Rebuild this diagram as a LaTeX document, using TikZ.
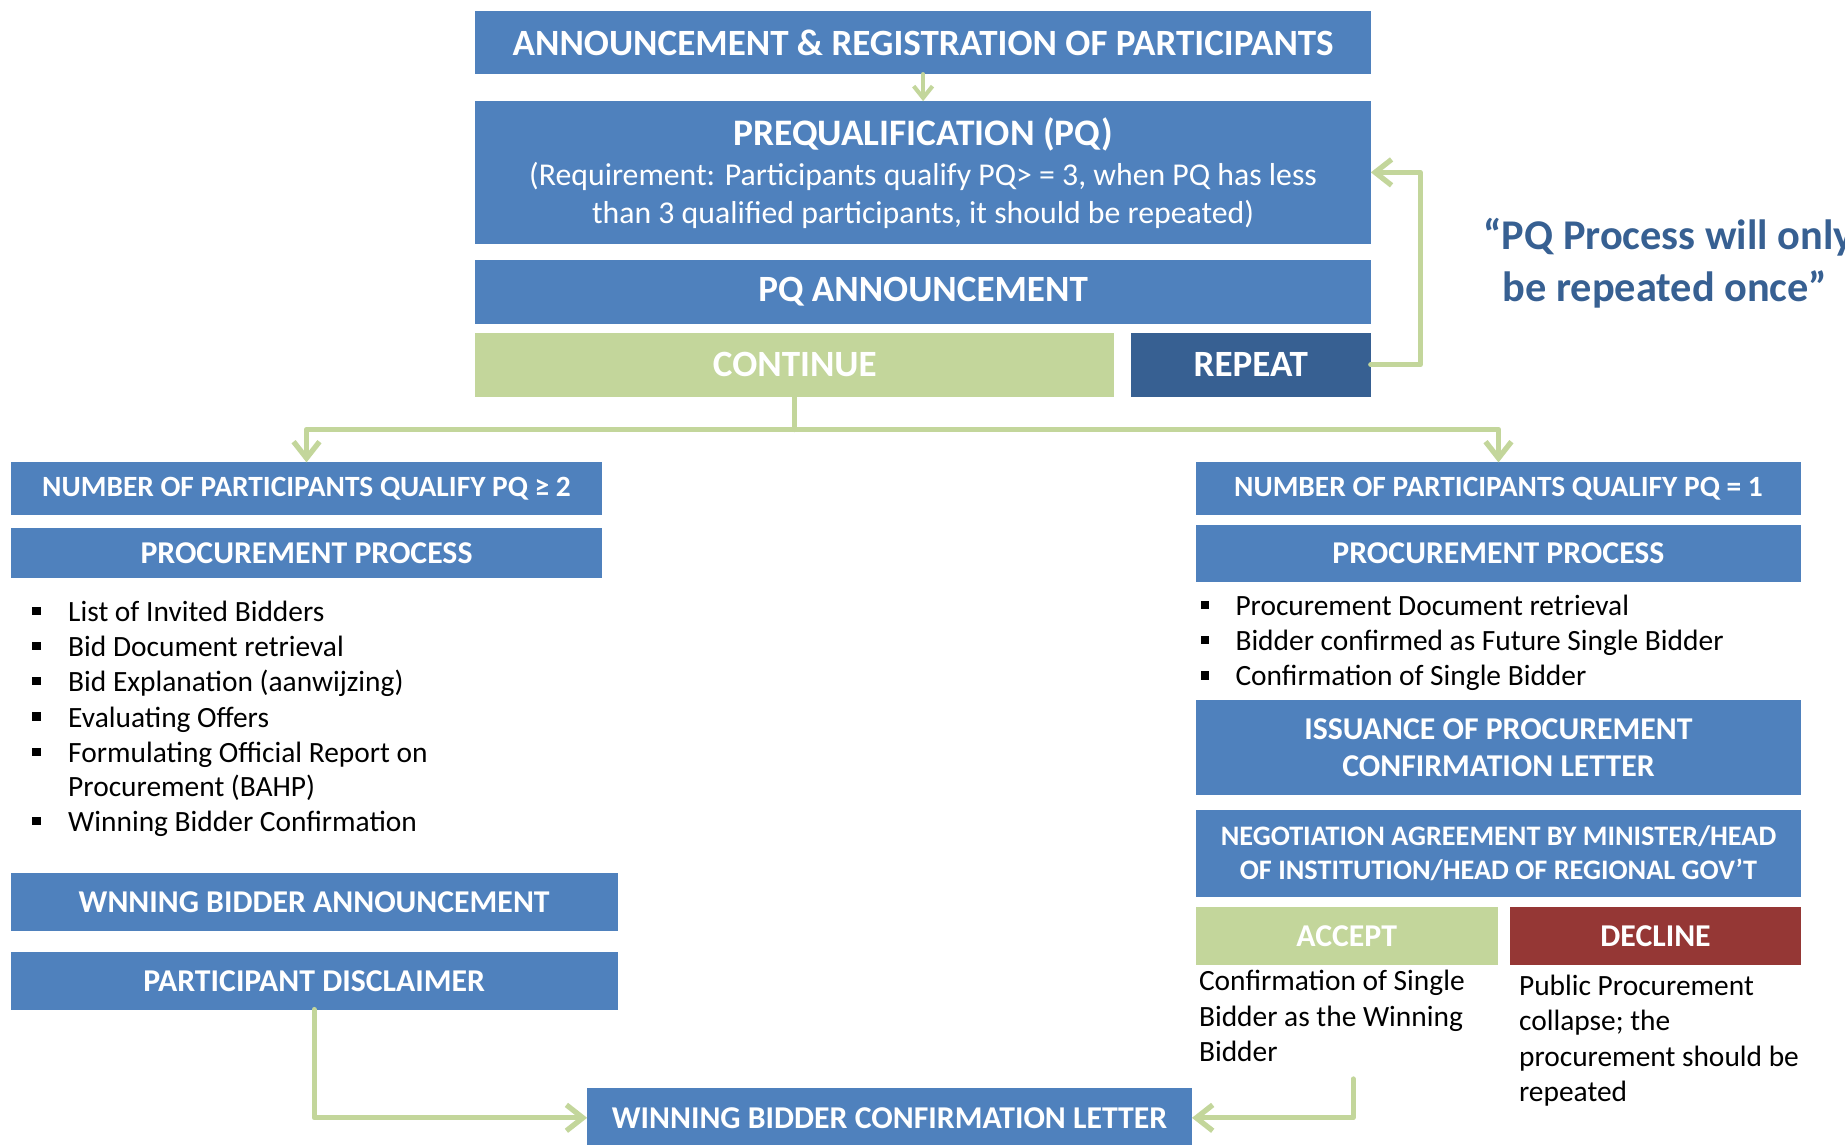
\documentclass[tikz,border=0pt]{standalone}
\usepackage{fontspec}
\setmainfont{Carlito}
\usetikzlibrary{arrows.meta}
\definecolor{bx}{HTML}{4F81BD}
\definecolor{dk}{HTML}{376092}
\definecolor{gr}{HTML}{C3D69B}
\definecolor{rd}{HTML}{953735}
\tikzset{
  box/.style={fill=bx, inner sep=0pt, outer sep=0pt, anchor=north west, text=white, align=center,
    font=\bfseries\fontsize{27}{32}\selectfont},
  bigbox/.style={box, font=\bfseries\fontsize{31.5}{36}\selectfont},
  smallbox/.style={box, font=\bfseries\fontsize{25}{29}\selectfont},
  negbox/.style={box, font=\bfseries\fontsize{24}{29}\selectfont},
  conn/.style={draw=gr, line width=4.5pt, line cap=round, line join=round},
  arr/.style={conn, -{Straight Barb[length=14pt, width=22pt]}},
  arrsmall/.style={draw=gr, line width=3.5pt, line cap=round, -{Straight Barb[length=10pt, width=16pt]}},
  bodytxt/.style={anchor=base west, inner sep=0pt, outer sep=0pt, text=black, font=\fontsize{25}{30}\selectfont},
  bul/.style={fill=black, inner sep=0pt, minimum size=7pt},
  quote/.style={text=dk, align=center, inner sep=0pt, font=\bfseries\fontsize{36}{44}\selectfont}
}
\begin{document}
\begin{tikzpicture}[x=1pt,y=-1pt]
\useasboundingbox (0,0) rectangle (1568,973);
% top column
\node[bigbox, minimum width=761pt, minimum height=54pt] (ann) at (404,9) {ANNOUNCEMENT \& REGISTRATION OF PARTICIPANTS};
\node[box, minimum width=761pt, minimum height=121pt] (pq) at (404,86) {};
\node[text=white, inner sep=0pt, font=\bfseries\fontsize{31.8}{36}\selectfont] (pqtitle) at (784.5,114) {PREQUALIFICATION (PQ)};
\node[text=white, inner sep=0pt, align=center, font=\fontsize{27}{32}\selectfont] (pqreq) at (784.5,166) {(Requirement: Participants qualify PQ> = 3, when PQ has less\\than 3 qualified participants, it should be repeated)};
\node[bigbox, minimum width=761pt, minimum height=54pt] (pqa) at (404,221) {PQ ANNOUNCEMENT};
\node[bigbox, fill=gr, minimum width=543pt, minimum height=54pt] (cont) at (404,283) {CONTINUE};
\node[bigbox, fill=dk, minimum width=204pt, minimum height=54pt] (rep) at (961,283) {REPEAT};
\node[quote] (q1) at (1418,202) {“PQ Process will only};
\node[quote] (q2) at (1415,246) {be repeated once”};
% left column
\node[smallbox, minimum width=503pt, minimum height=45pt] (n1) at (9,393) {NUMBER OF PARTICIPANTS QUALIFY PQ ≥ 2};
\node[box, minimum width=503pt, minimum height=42pt] (pp1) at (9,449) {PROCUREMENT PROCESS};
\node[bul] (lb1) at (31,519) {};
\node[bul] (lb2) at (31,549) {};
\node[bul] (lb3) at (31,579) {};
\node[bul] (lb4) at (31,609) {};
\node[bul] (lb5) at (31,639) {};
\node[bul] (lb6) at (31,698) {};
\node[bodytxt] (lt1) at (58,528) {List of Invited Bidders};
\node[bodytxt] (lt2) at (58,558) {Bid Document retrieval};
\node[bodytxt] (lt3) at (58,588) {Bid Explanation (aanwijzing)};
\node[bodytxt] (lt4) at (58,618) {Evaluating Offers};
\node[bodytxt] (lt5) at (58,648) {Formulating Official Report on};
\node[bodytxt] (lt5b) at (58,677) {Procurement (BAHP)};
\node[bodytxt] (lt6) at (58,707) {Winning Bidder Confirmation};
\node[box, minimum width=516pt, minimum height=49pt] (wba) at (9,742) {WNNING BIDDER ANNOUNCEMENT};
\node[box, minimum width=516pt, minimum height=49pt] (disc) at (9,809) {PARTICIPANT DISCLAIMER};
% bottom
\node[box, minimum width=514pt, minimum height=50pt] (conf) at (499,925) {WINNING BIDDER CONFIRMATION LETTER};
% right column
\node[smallbox, minimum width=515pt, minimum height=45pt] (n2) at (1016,393) {NUMBER OF PARTICIPANTS QUALIFY PQ = 1};
\node[box, minimum width=515pt, minimum height=49pt] (pp2) at (1016,446) {PROCUREMENT PROCESS};
\node[bul] (rb1) at (1024,514) {};
\node[bul] (rb2) at (1024,544) {};
\node[bul] (rb3) at (1024,574) {};
\node[bodytxt] (rt1) at (1050,523) {Procurement Document retrieval};
\node[bodytxt] (rt2) at (1050,553) {Bidder confirmed as Future Single Bidder};
\node[bodytxt] (rt3) at (1050,583) {Confirmation of Single Bidder};
\node[box, minimum width=515pt, minimum height=81pt] (iss) at (1016,595) {ISSUANCE OF PROCUREMENT\\CONFIRMATION LETTER};
\node[negbox, minimum width=515pt, minimum height=74pt] (neg) at (1016,688) {NEGOTIATION AGREEMENT BY MINISTER/HEAD\\OF INSTITUTION/HEAD OF REGIONAL GOV’T};
\node[box, fill=gr, minimum width=257pt, minimum height=49pt] (acc) at (1016,771) {ACCEPT};
\node[box, fill=rd, minimum width=248pt, minimum height=49pt] (dec) at (1283,771) {DECLINE};
\node[bodytxt] (at1) at (1019,842) {Confirmation of Single};
\node[bodytxt] (at2) at (1019,872) {Bidder as the Winning};
\node[bodytxt] (at3) at (1019,902) {Bidder};
\node[bodytxt] (dt1) at (1291,846) {Public Procurement};
\node[bodytxt] (dt2) at (1291,876) {collapse; the};
\node[bodytxt] (dt3) at (1291,906) {procurement should be};
\node[bodytxt] (dt4) at (1291,936) {repeated};
% connectors
\draw[arrsmall] (ann.south) -- (pq.north);
\draw[arr] (rep.east) -- ++(42,0) |- (pq.east);
\draw[conn] (cont.south) -- ++(0,28) coordinate (split);
\draw[arr] (split) -| (n1.north);
\draw[arr] (split) -| (n2.north);
\draw[arr] (disc.south) |- (conf.west);
\coordinate (accout) at (1150,917);
\draw[arr] (accout) |- (conf.east);
\end{tikzpicture}
\end{document}
